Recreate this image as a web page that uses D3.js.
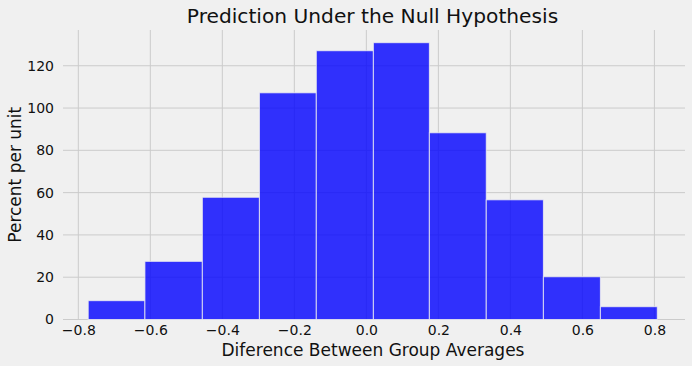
<!DOCTYPE html>
<html>
<head>
<meta charset="utf-8">
<script src="https://cdn.jsdelivr.net/npm/d3@7"></script>
<style>
  html, body { margin: 0; padding: 0; background: #f0f0f0; }
  svg { display: block; font-family: "DejaVu Sans", sans-serif; }
</style>
</head>
<body>
<script>
// Data
const binEdges = [-0.7725, -0.615, -0.4555, -0.297, -0.139, 0.0195, 0.175, 0.333, 0.4917, 0.65, 0.808];
const binHeights = [8.9, 27.5, 57.8, 107.2, 127.1, 130.9, 88.3, 56.6, 20.2, 6.05];
const xTicks = [-0.8, -0.6, -0.4, -0.2, 0.0, 0.2, 0.4, 0.6, 0.8];
const yTicks = [0, 20, 40, 60, 80, 100, 120];
const titleText = "Prediction Under the Null Hypothesis";
const xLabel = "Diference Between Group Averages";
const yLabel = "Percent per unit";

const W = 692, H = 366;
const margin = { left: 63, right: 7, top: 30, bottom: 46.5 };

const svg = d3.select("body").append("svg").attr("width", W).attr("height", H);
svg.append("rect").attr("width", W).attr("height", H).attr("fill", "#f0f0f0");

const x = d3.scaleLinear().domain([-0.8425, 0.885]).range([margin.left, W - margin.right]);
const y = d3.scaleLinear().domain([0, 136.9]).range([H - margin.bottom, margin.top]);

// grid
const g = svg.append("g");
g.selectAll("line.vx").data(xTicks).enter().append("line")
  .attr("x1", d => x(d)).attr("x2", d => x(d))
  .attr("y1", y.range()[0]).attr("y2", y.range()[1])
  .attr("stroke", "#cbcbcb").attr("stroke-width", 1);
g.selectAll("line.hy").data(yTicks).enter().append("line")
  .attr("x1", x.range()[0]).attr("x2", x.range()[1])
  .attr("y1", d => y(d)).attr("y2", d => y(d))
  .attr("stroke", "#cbcbcb").attr("stroke-width", 1);

// bars
const bins = binHeights.map((h, i) => ({ x0: binEdges[i], x1: binEdges[i + 1], h }));
svg.append("g").selectAll("rect").data(bins).enter().append("rect")
  .attr("x", d => x(d.x0))
  .attr("y", d => y(d.h))
  .attr("width", d => x(d.x1) - x(d.x0))
  .attr("height", d => y(0) - y(d.h))
  .attr("fill", "blue").attr("fill-opacity", 0.8)
  .attr("stroke", "#f0f0f0").attr("stroke-opacity", 0.8).attr("stroke-width", 1);

// axes (no tick marks, no domain)
const fmtX = d => (d < 0 ? "\u2212" : "") + Math.abs(d).toFixed(1);
const xAxis = d3.axisBottom(x).tickValues(xTicks).tickFormat(fmtX).tickSize(0).tickPadding(0);
const xa = svg.append("g").attr("transform", `translate(0,${H - margin.bottom})`).call(xAxis);
xa.select(".domain").remove();
xa.selectAll("text").attr("font-size", 14).attr("fill", "#111").attr("font-family", "DejaVu Sans")
  .attr("y", 0).attr("dy", 0).attr("transform", "translate(0,15)");

const yAxis = d3.axisLeft(y).tickValues(yTicks).tickSize(0).tickPadding(9);
const ya = svg.append("g").attr("transform", `translate(${margin.left},0)`).call(yAxis);
ya.select(".domain").remove();
ya.selectAll("text").attr("font-size", 14).attr("fill", "#111").attr("font-family", "DejaVu Sans");

// title & labels
svg.append("text").attr("x", 372.5).attr("y", 22.5)
  .attr("text-anchor", "middle").attr("font-size", 20.2).attr("fill", "#111").text(titleText);
svg.append("text").attr("x", 373).attr("y", 355.5)
  .attr("text-anchor", "middle").attr("font-size", 17).attr("fill", "#111").text(xLabel);
svg.append("text").attr("transform", `translate(21,${(y.range()[0] + y.range()[1]) / 2}) rotate(-90)`)
  .attr("text-anchor", "middle").attr("font-size", 17).attr("fill", "#111").text(yLabel);
</script>
</body>
</html>
